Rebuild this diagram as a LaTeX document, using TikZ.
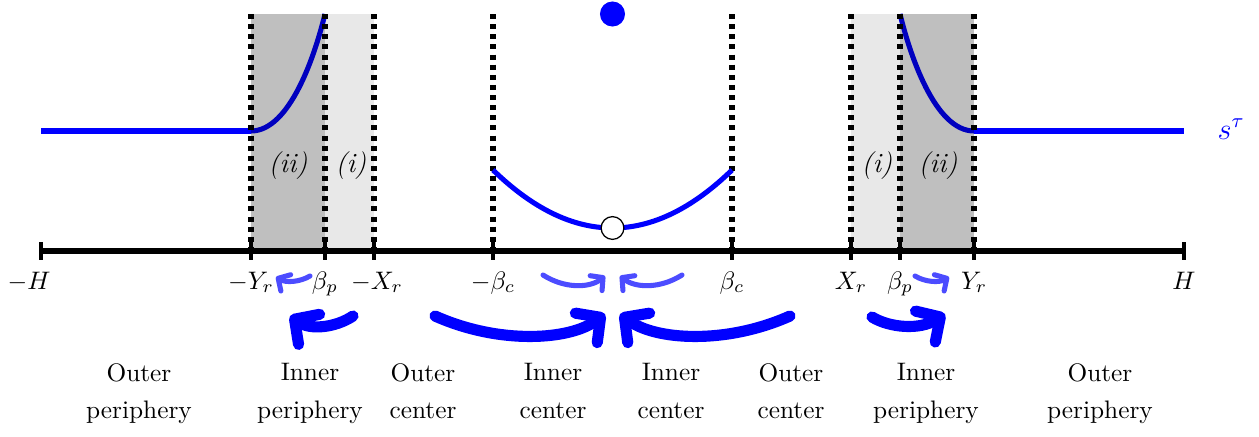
\documentclass[tikz,border=0pt]{standalone}
\usetikzlibrary{arrows.meta}
\begin{document}
\begin{tikzpicture}[x=0.395pt,y=-0.395pt,
  curve/.style={blue,line width=2pt},
  guide/.style={line width=2pt,dash pattern=on 2pt off 2pt},
  darkzone/.style={fill=black,opacity=0.25},
  lightzone/.style={fill=black,opacity=0.09},
  tickmark/.style={line width=1.6pt},
  axlbl/.style={anchor=base,inner sep=0pt},
  zonelbl/.style={anchor=center,inner sep=0pt,font=\fontsize{11}{13}\selectfont},
  heavy/.style={blue,line width=4.4pt,line cap=round,-{Straight Barb[length=7pt,width=14.5pt,round]}},
  light/.style={blue!70,line width=2pt,line cap=round,-{Straight Barb[length=3.5pt,width=7.5pt,round]}},
  region/.style={align=center,anchor=north,inner sep=0pt}]
\useasboundingbox (0,0) rectangle (1259,436);
% profile s^tau
\draw[curve] (41,131) -- (251,131);
\draw[curve] (251,131) .. controls (290,131) and (315,55) .. (325,14);
\draw[curve] (900,14) .. controls (910,55) and (935,131) .. (974,131);
\draw[curve] (974,131) -- (1184,131);
% shaded zones
\fill[darkzone] (251,14) rectangle (325,251);
\fill[lightzone] (325,14) rectangle (374,251);
\fill[lightzone] (851,14) rectangle (900,251);
\fill[darkzone] (900,14) rectangle (974,251);
% guides
\foreach \gx in {251,325,374,493,732,851,900,974}
  \draw[guide] (\gx,14) -- (\gx,251);
% axis
\draw[line width=2.4pt] (41,251) -- (1184,251);
\foreach \gx in {41,251,325,374,493,732,851,900,974,1184}
  \draw[tickmark] (\gx,242) -- (\gx,260);
% centre parabola
\draw[curve] (493,170) .. controls (572.67,247.33) and (652.33,247.33) .. (732,170);
\node[circle,draw,line width=0.5pt,fill=white,minimum size=9pt,inner sep=0pt] (open) at (612.5,228) {};
\node[circle,fill=blue,minimum size=9.9pt,inner sep=0pt] (dot) at (612.5,14) {};
% labels
\node[axlbl] (lH) at (29,289) {$-H$};
\node[axlbl] (lYl) at (251,289) {$-Y_r$};
\node[axlbl] (lbpl) at (325,289) {$\beta_p$};
\node[axlbl] (lXl) at (377,289) {$-X_r$};
\node[axlbl] (lbcl) at (493,289) {$-\beta_c$};
\node[axlbl] (lbcr) at (732,289) {$\beta_c$};
\node[axlbl] (lXr) at (851,289) {$X_r$};
\node[axlbl] (lbpr) at (900,289) {$\beta_p$};
\node[axlbl] (lYr) at (974,289) {$Y_r$};
\node[axlbl] (lHr) at (1184,289) {$H$};
\node[anchor=base west,inner sep=0pt,blue,font=\large] (stau) at (1217,139) {$s^\tau$};
\node[zonelbl] (z1) at (288,166) {\textit{(ii)}};
\node[zonelbl] (z2) at (351,166) {\textit{(i)}};
\node[zonelbl] (z3) at (877,166) {\textit{(i)}};
\node[zonelbl] (z4) at (938,166) {\textit{(ii)}};
% arrows
\coordinate (a1s) at (310,276); \coordinate (a1e) at (276,277);
\draw[light] (a1s) .. controls (300,282) and (286,283) .. (a1e);
\coordinate (a2s) at (543,275); \coordinate (a2e) at (605,276);
\draw[light] (a2s) .. controls (565,289) and (590,288) .. (a2e);
\coordinate (a3s) at (682,275); \coordinate (a3e) at (620,276);
\draw[light] (a3s) .. controls (660,289) and (635,288) .. (a3e);
\coordinate (a4s) at (915,276); \coordinate (a4e) at (949,277);
\draw[light] (a4s) .. controls (925,282) and (939,283) .. (a4e);
\coordinate (b1s) at (353,316); \coordinate (b1e) at (290,316);
\draw[heavy] (b1s) .. controls (335,328) and (310,330) .. (b1e);
\coordinate (b2s) at (435,316); \coordinate (b2e) at (605,314);
\draw[heavy] (b2s) .. controls (500,345) and (570,340) .. (b2e);
\coordinate (b3s) at (790,316); \coordinate (b3e) at (620,314);
\draw[heavy] (b3s) .. controls (725,345) and (655,340) .. (b3e);
\coordinate (b4s) at (872,317); \coordinate (b4e) at (945,314);
\draw[heavy] (b4s) .. controls (890,328) and (920,330) .. (b4e);
% region names
\node[region] (r1) at (139,363) {Outer\\[2.8pt]periphery};
\node[region] (r2) at (310,363) {Inner\\[2.8pt]periphery};
\node[region] (r3) at (423,363) {Outer\\[2.8pt]center};
\node[region] (r4) at (553,363) {Inner\\[2.8pt]center};
\node[region] (r5) at (671,363) {Inner\\[2.8pt]center};
\node[region] (r6) at (791,363) {Outer\\[2.8pt]center};
\node[region] (r7) at (926,363) {Inner\\[2.8pt]periphery};
\node[region] (r8) at (1100,363) {Outer\\[2.8pt]periphery};
\end{tikzpicture}
\end{document}
